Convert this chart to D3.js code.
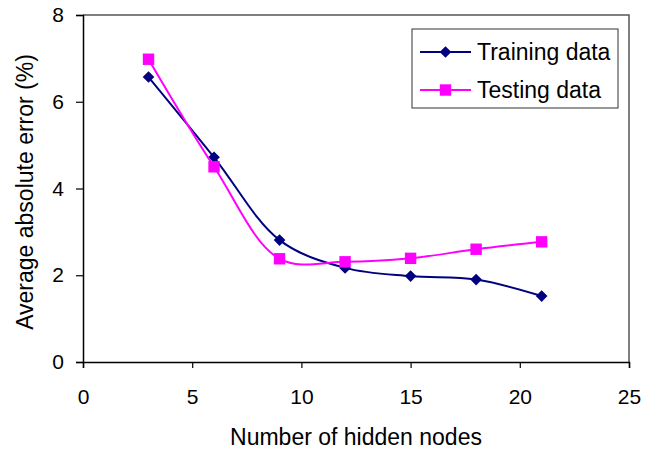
<!DOCTYPE html>
<html>
<head>
<meta charset="utf-8">
<script src="https://cdn.jsdelivr.net/npm/d3@7"></script>
<style>
  body { margin: 0; background: #fff; }
  text { font-family: Arial, "Liberation Sans", sans-serif; }
</style>
</head>
<body>
<div id="plot"></div>
<script>
// hidden nodes vs error
var w = 645;
var h = 450;

var hiddenNodes = [3, 6, 9, 12, 15, 18, 21];
var trainingErr = [6.57, 4.72, 2.81, 2.17, 1.98, 1.9, 1.52];
var testingErr = [6.98, 4.5, 2.38, 2.31, 2.39, 2.6, 2.77];
var xTicks = [0, 5, 10, 15, 20, 25];
var yTicks = [0, 2, 4, 6, 8];

var mLeft = 83, mRight = 629, mTop = 15, mBottom = 362;

var svg = d3.select('#plot').append('svg')
	.attr('width', w)
	.attr('height', h);

var x = d3.scaleLinear().domain([0, 25]).range([mLeft, mRight]);
var y = d3.scaleLinear().domain([0, 8]).range([mBottom, mTop]);

// frame (top + right)
svg.append('path')
	.attr('d', 'M' + mLeft + ',' + mTop + 'H' + mRight + 'V' + mBottom)
	.attr('fill', 'none')
	.attr('stroke', '#555')
	.attr('stroke-width', 1.5);

// axes
var xAxis = svg.append('g')
	.attr('transform', 'translate(0,' + mBottom + ')')
	.call(d3.axisBottom(x).tickValues(xTicks).tickSize(6));
var yAxis = svg.append('g')
	.attr('transform', 'translate(' + mLeft + ',0)')
	.call(d3.axisLeft(y).tickValues(yTicks).tickSize(7).tickPadding(12));

[xAxis, yAxis].forEach(function (a) {
	a.select('.domain').attr('stroke', '#000').attr('stroke-width', 1.5);
	a.selectAll('.tick line').attr('stroke', '#000').attr('stroke-width', 1.2);
	a.selectAll('.tick text')
		.attr('font-size', '21px')
		.attr('font-family', 'Arial, "Liberation Sans", sans-serif')
		.attr('fill', '#000');
});
xAxis.selectAll('.tick text').attr('y', 42).attr('dy', 0);

// axis titles
svg.append('text')
	.text('Number of hidden nodes')
	.attr('x', (mLeft + mRight) / 2)
	.attr('y', 445)
	.attr('text-anchor', 'middle')
	.attr('font-size', '23px');

svg.append('text')
	.text('Average absolute error (%)')
	.attr('transform', 'translate(33,' + 192 + ') rotate(-90)')
	.attr('text-anchor', 'middle')
	.attr('font-size', '23px');

var line = d3.line()
	.x(function (d) { return x(d[0]); })
	.y(function (d) { return y(d[1]); })
	.curve(d3.curveCatmullRom.alpha(0.5));

// diamond = square turned 45 degrees
var series = [
	{ name: 'Training data', vals: trainingErr, color: '#000080', size: 68, rot: 45 },
	{ name: 'Testing data', vals: testingErr, color: '#ff00ff', size: 130, rot: 0 }
];

series.forEach(function (s) {
	var pts = hiddenNodes.map(function (n, i) { return [n, s.vals[i]]; });
	svg.append('path')
		.datum(pts)
		.attr('d', line)
		.attr('fill', 'none')
		.attr('stroke', s.color)
		.attr('stroke-width', 2);
	svg.selectAll(null)
		.data(pts)
		.enter()
		.append('path')
		.attr('d', d3.symbol().type(d3.symbolSquare).size(s.size))
		.attr('transform', function (d) {
			return 'translate(' + x(d[0]) + ',' + y(d[1]) + ') rotate(' + s.rot + ')';
		})
		.attr('fill', s.color);
});

// legend
var lg = svg.append('g');
lg.append('rect')
	.attr('x', 412).attr('y', 29)
	.attr('width', 206).attr('height', 79)
	.attr('fill', '#fff')
	.attr('stroke', '#333')
	.attr('stroke-width', 1);

series.forEach(function (s, i) {
	var ly = 52 + i * 38;
	lg.append('line')
		.attr('x1', 420).attr('x2', 471)
		.attr('y1', ly).attr('y2', ly)
		.attr('stroke', s.color)
		.attr('stroke-width', 2);
	lg.append('path')
		.attr('d', d3.symbol().type(d3.symbolSquare).size(s.size))
		.attr('transform', 'translate(445.5,' + ly + ') rotate(' + s.rot + ')')
		.attr('fill', s.color);
	lg.append('text')
		.text(s.name)
		.attr('x', 477)
		.attr('y', ly + 8)
		.attr('font-size', '23px');
});
</script>
</body>
</html>
